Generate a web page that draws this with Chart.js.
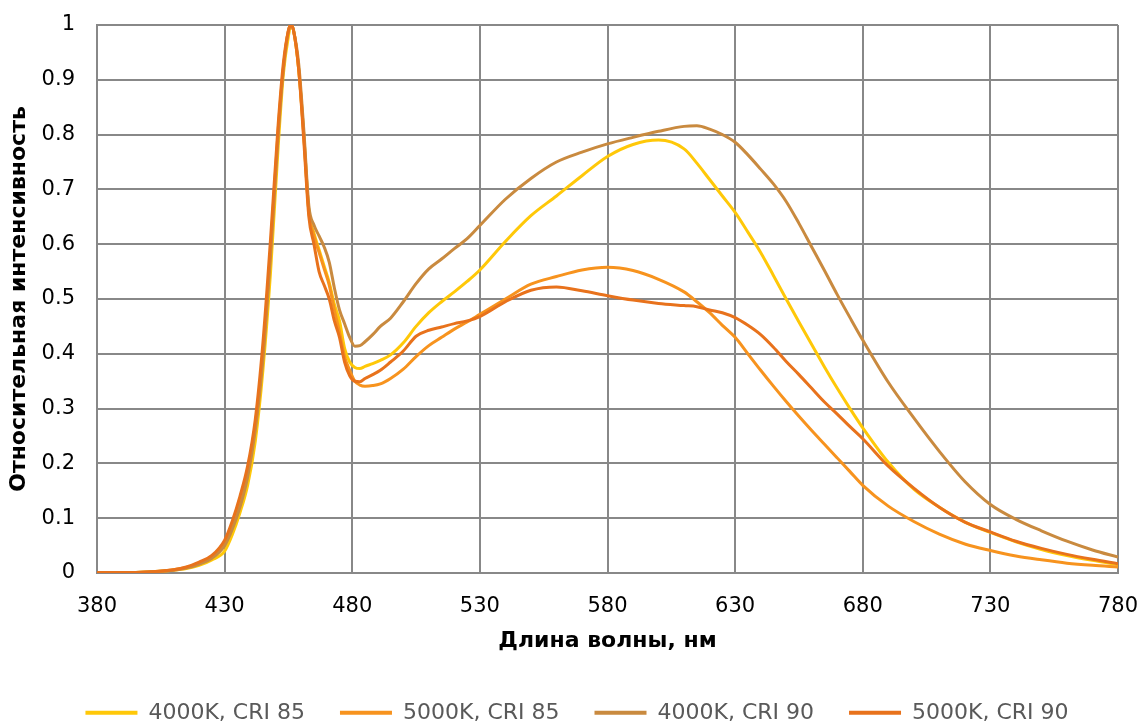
<!DOCTYPE html>
<html>
<head>
<meta charset="utf-8">
<script src="https://cdn.jsdelivr.net/npm/chart.js@4"></script>
<style>
  html, body { margin: 0; padding: 0; background: #fff; }
  #wrap { width: 1140px; height: 724px; position: relative; }
</style>
</head>
<body>
<div id="wrap"><canvas id="chartCanvas"></canvas></div>
<script>
/* ─── Data ─── */
const wavelengths = [
  380, 390, 400, 410, 415, 420, 425, 430, 433, 436, 439, 442, 445, 448, 451, 453,
  455, 456, 457, 459, 461, 463, 465, 467, 469, 471, 473, 475, 477, 479, 481, 483,
  485, 488, 491, 495, 500, 505, 510, 515, 520, 525, 530, 540, 550, 560, 570, 580,
  590, 600, 610, 615, 620, 625, 630, 635, 640, 645, 650, 655, 660, 665, 670, 675,
  680, 690, 700, 710, 720, 730, 740, 750, 760, 770, 780
];

const cri85_4000 = [
  0.001, 0.001, 0.002, 0.005, 0.008, 0.014, 0.024, 0.04, 0.07, 0.11, 0.16, 0.24, 0.37, 0.55, 0.78, 0.91,
  0.98, 1.0, 0.99, 0.92, 0.8, 0.66, 0.62, 0.59, 0.56, 0.53, 0.49, 0.46, 0.41, 0.385, 0.375, 0.373,
  0.377, 0.382, 0.388, 0.398, 0.42, 0.45, 0.475, 0.495, 0.513, 0.532, 0.553, 0.605, 0.652, 0.688, 0.725, 0.76,
  0.782, 0.79, 0.774, 0.748, 0.718, 0.688, 0.658, 0.622, 0.585, 0.543, 0.5, 0.458, 0.417, 0.376, 0.337, 0.3,
  0.265, 0.202, 0.153, 0.12, 0.093, 0.074, 0.057, 0.043, 0.032, 0.023, 0.015
];

const cri85_5000 = [
  0.001, 0.001, 0.002, 0.006, 0.01, 0.018, 0.03, 0.055, 0.088, 0.13, 0.185, 0.27, 0.4, 0.59, 0.81, 0.92,
  0.99, 1.0, 0.99, 0.92, 0.8, 0.66, 0.615, 0.585, 0.555, 0.525, 0.48, 0.44, 0.395, 0.37, 0.35, 0.343,
  0.341, 0.342, 0.345, 0.355, 0.372, 0.395, 0.415, 0.43, 0.445, 0.458, 0.472, 0.5, 0.527, 0.541, 0.553, 0.558,
  0.552, 0.536, 0.513, 0.495, 0.475, 0.452, 0.43, 0.4, 0.37, 0.341, 0.313, 0.286, 0.26, 0.235, 0.21, 0.185,
  0.16, 0.122, 0.094, 0.071, 0.053, 0.041, 0.031, 0.024, 0.018, 0.014, 0.011
];

const cri90_4000 = [
  0.001, 0.001, 0.002, 0.005, 0.009, 0.016, 0.027, 0.05, 0.08, 0.12, 0.175, 0.26, 0.39, 0.58, 0.8, 0.92,
  0.99, 1.0, 0.99, 0.93, 0.81, 0.67, 0.635, 0.615, 0.595, 0.567, 0.52, 0.48, 0.455, 0.43, 0.414, 0.415,
  0.422, 0.435, 0.45, 0.465, 0.495, 0.528, 0.555, 0.573, 0.592, 0.61, 0.634, 0.682, 0.72, 0.75, 0.768, 0.783,
  0.795, 0.806, 0.815, 0.816, 0.81, 0.8, 0.786, 0.763, 0.737, 0.71, 0.678, 0.638, 0.595, 0.552, 0.508, 0.466,
  0.425, 0.348, 0.283, 0.222, 0.167, 0.125, 0.098, 0.077, 0.058, 0.042, 0.029
];

const cri90_5000 = [
  0.001, 0.001, 0.002, 0.006, 0.011, 0.02, 0.032, 0.06, 0.095, 0.14, 0.195, 0.28, 0.42, 0.61, 0.82, 0.93,
  0.99, 1.0, 0.99, 0.92, 0.79, 0.65, 0.6, 0.55, 0.525, 0.5, 0.46, 0.43, 0.385, 0.36, 0.35, 0.349,
  0.355, 0.362, 0.37, 0.385, 0.405, 0.432, 0.443, 0.449, 0.455, 0.46, 0.468, 0.495, 0.516, 0.522, 0.515, 0.506,
  0.498, 0.492, 0.488, 0.486, 0.48, 0.475, 0.466, 0.452, 0.435, 0.412, 0.386, 0.362, 0.337, 0.312, 0.29, 0.267,
  0.245, 0.195, 0.155, 0.12, 0.093, 0.075, 0.058, 0.045, 0.034, 0.025, 0.017
];

const seriesNames = ['4000K, CRI 85', '5000K, CRI 85', '4000K, CRI 90', '5000K, CRI 90'];
const seriesValues = [cri85_4000, cri85_5000, cri90_4000, cri90_5000];
const seriesColors = ['#FFC808', '#F7931E', '#C98A3F', '#E8721C'];
const yTicks = [0, 0.1, 0.2, 0.3, 0.4, 0.5, 0.6, 0.7, 0.8, 0.9, 1];
const xTicks = [380, 430, 480, 530, 580, 630, 680, 730, 780];

/* ─── Chart ─── */
const FONT = "'DejaVu Sans', Verdana, sans-serif";
const GRID = '#888888';
const PLOT_BOTTOM = 573;
const LEGEND_Y = 715;     // centre line of the legend row
const LEGEND_DX = 18;     // nudge legend row to the right

const datasets = seriesNames.map((name, i) => ({
  label: name,
  data: wavelengths.map((w, k) => ({ x: w, y: seriesValues[i][k] })),
  borderColor: seriesColors[i],
  backgroundColor: seriesColors[i],
  borderWidth: 3,
  pointRadius: 0,
  cubicInterpolationMode: 'monotone',
  order: 4 - i   // last series drawn on top
}));

// move the legend row to where the reference has it
const legendShift = {
  id: 'legendShift',
  afterLayout(chart) {
    const lg = chart.legend;
    const pad = lg.options.labels.padding;
    const itemH = lg.options.labels.font.size * 1.2;
    const dy = (LEGEND_Y - pad - itemH / 2) - lg.top;
    lg.top += dy;
    lg.bottom += dy;
    lg.left += LEGEND_DX;
    lg.right += LEGEND_DX;
    (lg.legendHitBoxes || []).forEach(b => { b.top += dy; b.left += LEGEND_DX; });
  }
};

const ctx = document.getElementById('chartCanvas').getContext('2d');
new Chart(ctx, {
  type: 'line',
  data: { datasets },
  plugins: [legendShift],
  options: {
    responsive: true,
    maintainAspectRatio: false,
    animation: false,
    layout: { padding: { top: 25, right: 22, left: 0, bottom: 0 } },
    plugins: {
      legend: {
        position: 'bottom',
        labels: {
          color: '#595959',
          font: { size: 22, family: FONT },
          boxWidth: 52,
          boxHeight: 4,
          padding: 35,
          sort: (a, b) => a.datasetIndex - b.datasetIndex,
          generateLabels: chart => Chart.defaults.plugins.legend.labels.generateLabels(chart)
            .map(l => Object.assign(l, { lineWidth: 0, strokeStyle: 'transparent' }))
        }
      },
      tooltip: { enabled: false }
    },
    scales: {
      x: {
        type: 'linear',
        min: 380, max: 780,
        afterBuildTicks: s => { s.ticks = xTicks.map(v => ({ value: v })); },
        afterFit: s => {
          s.height = 724 - PLOT_BOTTOM - s.chart.legend.height;
          s.paddingLeft = 0; s.paddingRight = 0;
        },
        ticks: { color: '#000', font: { size: 21, family: FONT }, padding: 21, maxRotation: 0 },
        grid: { color: GRID, lineWidth: 2, drawTicks: false },
        border: { color: GRID, width: 2 },
        title: {
          display: true,
          text: 'Длина волны, нм',
          color: '#000',
          font: { size: 22, weight: 'bold', family: FONT },
          padding: { top: 6, bottom: 3 }
        }
      },
      y: {
        min: 0, max: 1,
        afterBuildTicks: s => { s.ticks = yTicks.map(v => ({ value: v })); },
        afterFit: s => {
          s.width = 97;
          s.paddingTop = 0; s.paddingBottom = 0;
        },
        ticks: {
          color: '#000', font: { size: 21, family: FONT }, padding: 22,
          callback: v => String(v)
        },
        grid: { color: GRID, lineWidth: 2, drawTicks: false },
        border: { color: GRID, width: 2 },
        title: {
          display: true,
          text: 'Относительная интенсивность',
          color: '#000',
          font: { size: 22, weight: 'bold', family: FONT },
          padding: { top: 6, bottom: 0 }
        }
      }
    }
  }
});
</script>
</body>
</html>
